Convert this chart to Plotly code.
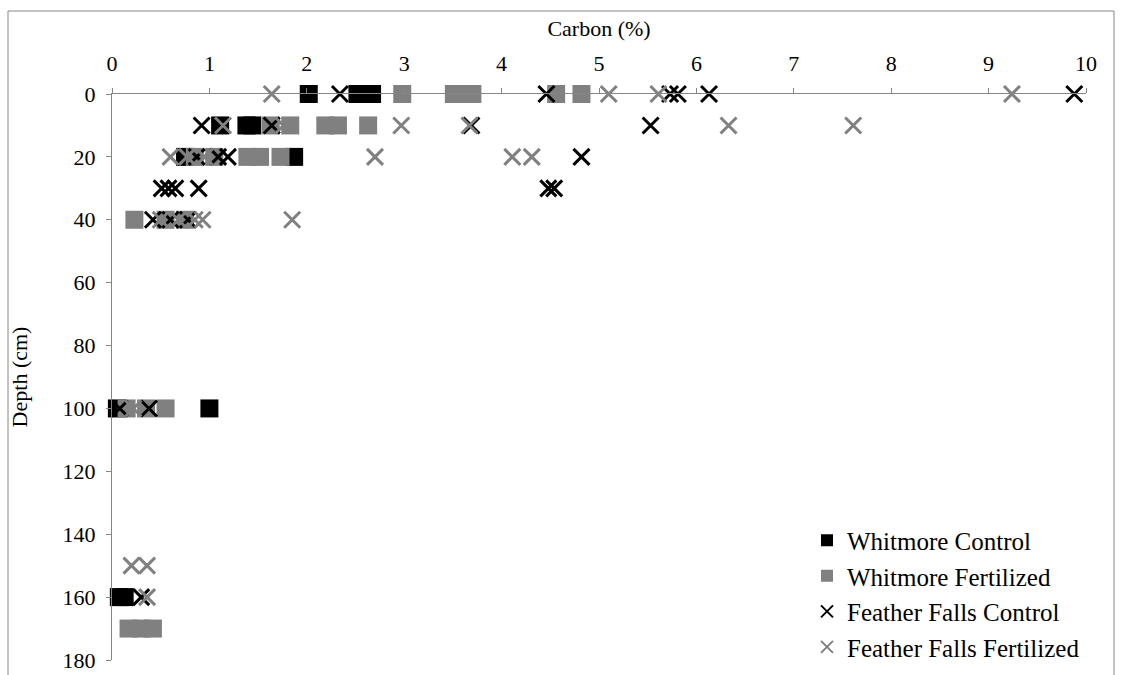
import plotly.graph_objects as go

# Whitmore Control (black squares)
wc_carbon = [2.02, 2.52, 2.60, 2.67, 1.11, 1.38, 1.44, 0.75, 1.87, 0.05, 1.00, 0.07, 0.13]
wc_depth = [0, 0, 0, 0, 10, 10, 10, 20, 20, 100, 100, 160, 160]

# Whitmore Fertilized (grey squares)
wf_carbon = [2.98, 3.51, 3.60, 3.70, 4.56, 4.82,
             1.63, 1.83, 2.19, 2.32, 2.63,
             0.85, 1.05, 1.39, 1.52, 1.73,
             0.23, 0.55, 0.75,
             0.15, 0.35, 0.55,
             0.17, 0.30, 0.42]
wf_depth = [0, 0, 0, 0, 0, 0,
            10, 10, 10, 10, 10,
            20, 20, 20, 20, 20,
            40, 40, 40,
            100, 100, 100,
            170, 170, 170]

# Feather Falls Control (black x)
fc_carbon = [2.34, 4.46, 5.73, 5.81, 6.13, 9.88,
             0.92, 1.64, 3.69, 5.53,
             0.87, 1.09, 1.19, 4.82,
             0.51, 0.58, 0.65, 0.89, 4.48, 4.54,
             0.42, 0.60, 0.78,
             0.08, 0.38,
             0.30]
fc_depth = [0, 0, 0, 0, 0, 0,
            10, 10, 10, 10,
            20, 20, 20, 20,
            30, 30, 30, 30, 30, 30,
            40, 40, 40,
            100, 100,
            160]

# Feather Falls Fertilized (grey x)
ff_carbon = [1.64, 5.10, 5.61, 9.24,
             1.14, 1.76, 2.97, 3.67, 6.33, 7.61,
             0.60, 0.77, 0.95, 2.70, 4.11, 4.31,
             0.50, 0.68, 0.85, 0.93, 1.85,
             0.22,
             0.20, 0.36,
             0.36]
ff_depth = [0, 0, 0, 0,
            10, 10, 10, 10, 10, 10,
            20, 20, 20, 20, 20, 20,
            40, 40, 40, 40, 40,
            100,
            150, 150,
            160]

x_ticks = [0, 1, 2, 3, 4, 5, 6, 7, 8, 9, 10]
y_ticks = [0, 20, 40, 60, 80, 100, 120, 140, 160, 180]

BLACK = "#000000"
GREY = "#808080"
AXIS = "#868686"
FONT = "'Liberation Serif', 'Times New Roman', Times, serif"

W, H = 1122, 675
L, T, R, B = 112, 94, 36, 15
PW, PH = W - L - R, H - T - B

fig = go.Figure()
fig.add_trace(go.Scatter(x=wc_carbon, y=wc_depth, mode="markers", name="Whitmore Control",
                         marker=dict(symbol="square", size=18, color=BLACK), cliponaxis=False))
fig.add_trace(go.Scatter(x=wf_carbon, y=wf_depth, mode="markers", name="Whitmore Fertilized",
                         marker=dict(symbol="square", size=18, color=GREY), cliponaxis=False))
fig.add_trace(go.Scatter(x=fc_carbon, y=fc_depth, mode="markers", name="Feather Falls Control",
                         marker=dict(symbol="x-thin", size=16, color=BLACK,
                                     line=dict(width=3, color=BLACK)), cliponaxis=False))
fig.add_trace(go.Scatter(x=ff_carbon, y=ff_depth, mode="markers", name="Feather Falls Fertilized",
                         marker=dict(symbol="x-thin", size=16, color=GREY,
                                     line=dict(width=3, color=GREY)), cliponaxis=False))

fig.update_layout(
    width=W, height=H,
    margin=dict(l=L, r=R, t=T, b=B, autoexpand=False),
    paper_bgcolor="white", plot_bgcolor="white",
    font=dict(family=FONT, size=22, color="black"),
    showlegend=True,
    legend=dict(x=(807 - L) / PW, y=-0.017, xanchor="left", yanchor="bottom",
                font=dict(family=FONT, size=25, color="black"),
                bgcolor="rgba(0,0,0,0)", itemsizing="constant",
                tracegroupgap=0),
    xaxis=dict(side="top", range=[0, 10], tickvals=x_ticks, ticktext=[str(v) for v in x_ticks],
               showgrid=False, zeroline=False, showline=True, linecolor=AXIS, linewidth=1,
               ticks="outside", ticklen=5, tickcolor=AXIS, ticklabelstandoff=8,
               title=dict(text="Carbon (%)", font=dict(family=FONT, size=22), standoff=8)),
    yaxis=dict(range=[180, 0], tickvals=y_ticks, ticktext=[str(v) for v in y_ticks],
               showgrid=False, zeroline=False, showline=True, linecolor=AXIS, linewidth=1,
               ticks="outside", ticklen=5, tickcolor=AXIS, ticklabelstandoff=6,
               ticklabeloverflow="allow",
               title=dict(text="Depth (cm)", font=dict(family=FONT, size=22), standoff=28)),
    shapes=[dict(type="rect", xref="paper", yref="paper",
                 x0=(8 - L) / PW, x1=(1114 - L) / PW,
                 y0=(H - B - 680) / PH, y1=(H - B - 11) / PH,
                 line=dict(color=AXIS, width=1), fillcolor="rgba(0,0,0,0)", layer="below")],
)

fig.write_html("out.html", config={"displayModeBar": False},
               post_script="document.body.style.margin='0';document.body.style.overflow='hidden';")
